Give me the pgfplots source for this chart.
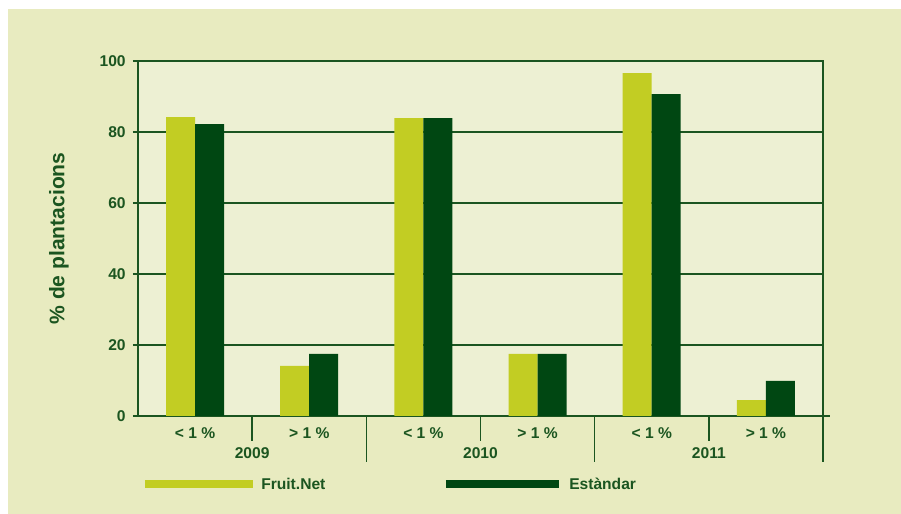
\documentclass[border=0pt]{standalone}
\usepackage{fontspec}
\setmainfont{Liberation Sans}
\usepackage{pgfplots}
\pgfplotsset{compat=1.18}

\definecolor{outerbg}{HTML}{E8EBC0}
\definecolor{plotbg}{HTML}{EDF0D3}
\definecolor{fruitnet}{HTML}{C2CD23}
\definecolor{estandar}{HTML}{004712}
\definecolor{txtgreen}{HTML}{1B5520}

\newcommand{\lbl}{\fontsize{11.7}{14}\selectfont\bfseries}

\begin{document}
\begin{tikzpicture}
% page and outer background (1px = 0.75pt, origin at the plot's lower left corner)
\fill[white] (-103.5pt,-73.5pt) rectangle (572.25pt,312pt);
\fill[outerbg] (-97.5pt,-73.5pt) rectangle (572.25pt,305.25pt);

\begin{axis}[
  scale only axis,
  width=513.75pt, height=266.25pt,
  xmin=-0.5, xmax=5.5,
  ymin=0, ymax=100,
  ybar=0pt, bar width=21.75pt,
  clip=false,
  axis background/.style={fill=plotbg},
  axis line style={txtgreen, line width=1.2pt},
  xtick=\empty,
  ytick={0,20,40,60,80,100},
  ytick pos=left,
  tick align=outside,
  major tick length=3.75pt,
  tick style={txtgreen, line width=1.2pt},
  ymajorgrids,
  grid style={txtgreen, line width=1.2pt},
  /pgf/number format/assume math mode=true,
  yticklabel style={font=\lbl, text=txtgreen, xshift=-2pt},
  ylabel={\% de plantacions},
  ylabel style={at={(axis description cs:-0.1153,0.5)}, anchor=center,
    font=\fontsize{15.8}{18}\selectfont\bfseries, text=txtgreen, inner sep=0pt},
]
\addplot[fill=fruitnet, draw=none] coordinates {
  (0,84.2) (1,14.1) (2,83.9) (3,17.5) (4,96.6) (5,4.5)
};
\addplot[fill=estandar, draw=none] coordinates {
  (0,82.2) (1,17.5) (2,83.9) (3,17.5) (4,90.7) (5,9.9)
};

% bottom axis running a little past the right edge
\draw[txtgreen, line width=1.2pt] (rel axis cs:1,0) -- ++(5.25pt,0pt);

% category separators
\pgfplotsinvokeforeach{0.5,2.5,4.5}{
  \draw[txtgreen, line width=1.2pt] (axis cs:#1,0) -- ++(0pt,-18.75pt);
}
\pgfplotsinvokeforeach{1.5,3.5,5.5}{
  \draw[txtgreen, line width=1.2pt] (axis cs:#1,0) -- ++(0pt,-34.5pt);
}

% category and year labels
\pgfplotsinvokeforeach{0,2,4}{
  \node[font=\lbl, text=txtgreen, inner sep=0pt] at ([yshift=-12.75pt]axis cs:#1,0) {< 1 \%};
}
\pgfplotsinvokeforeach{1,3,5}{
  \node[font=\lbl, text=txtgreen, inner sep=0pt] at ([yshift=-12.75pt]axis cs:#1,0) {> 1 \%};
}
\node[font=\lbl, text=txtgreen, inner sep=0pt] at ([yshift=-27.75pt]axis cs:0.5,0) {2009};
\node[font=\lbl, text=txtgreen, inner sep=0pt] at ([yshift=-27.75pt]axis cs:2.5,0) {2010};
\node[font=\lbl, text=txtgreen, inner sep=0pt] at ([yshift=-27.75pt]axis cs:4.5,0) {2011};

% legend
\draw[fruitnet, line width=5.5pt] (5.25pt,-51pt) -- (86.25pt,-51pt);
\node[anchor=west, font=\lbl, text=txtgreen, inner sep=0pt] at (92.25pt,-51pt) {Fruit.Net};
\draw[estandar, line width=5.5pt] (231pt,-51pt) -- (315.75pt,-51pt);
\node[anchor=west, font=\lbl, text=txtgreen, inner sep=0pt] at (323.25pt,-51pt) {Estàndar};
\end{axis}
\end{tikzpicture}
\end{document}
